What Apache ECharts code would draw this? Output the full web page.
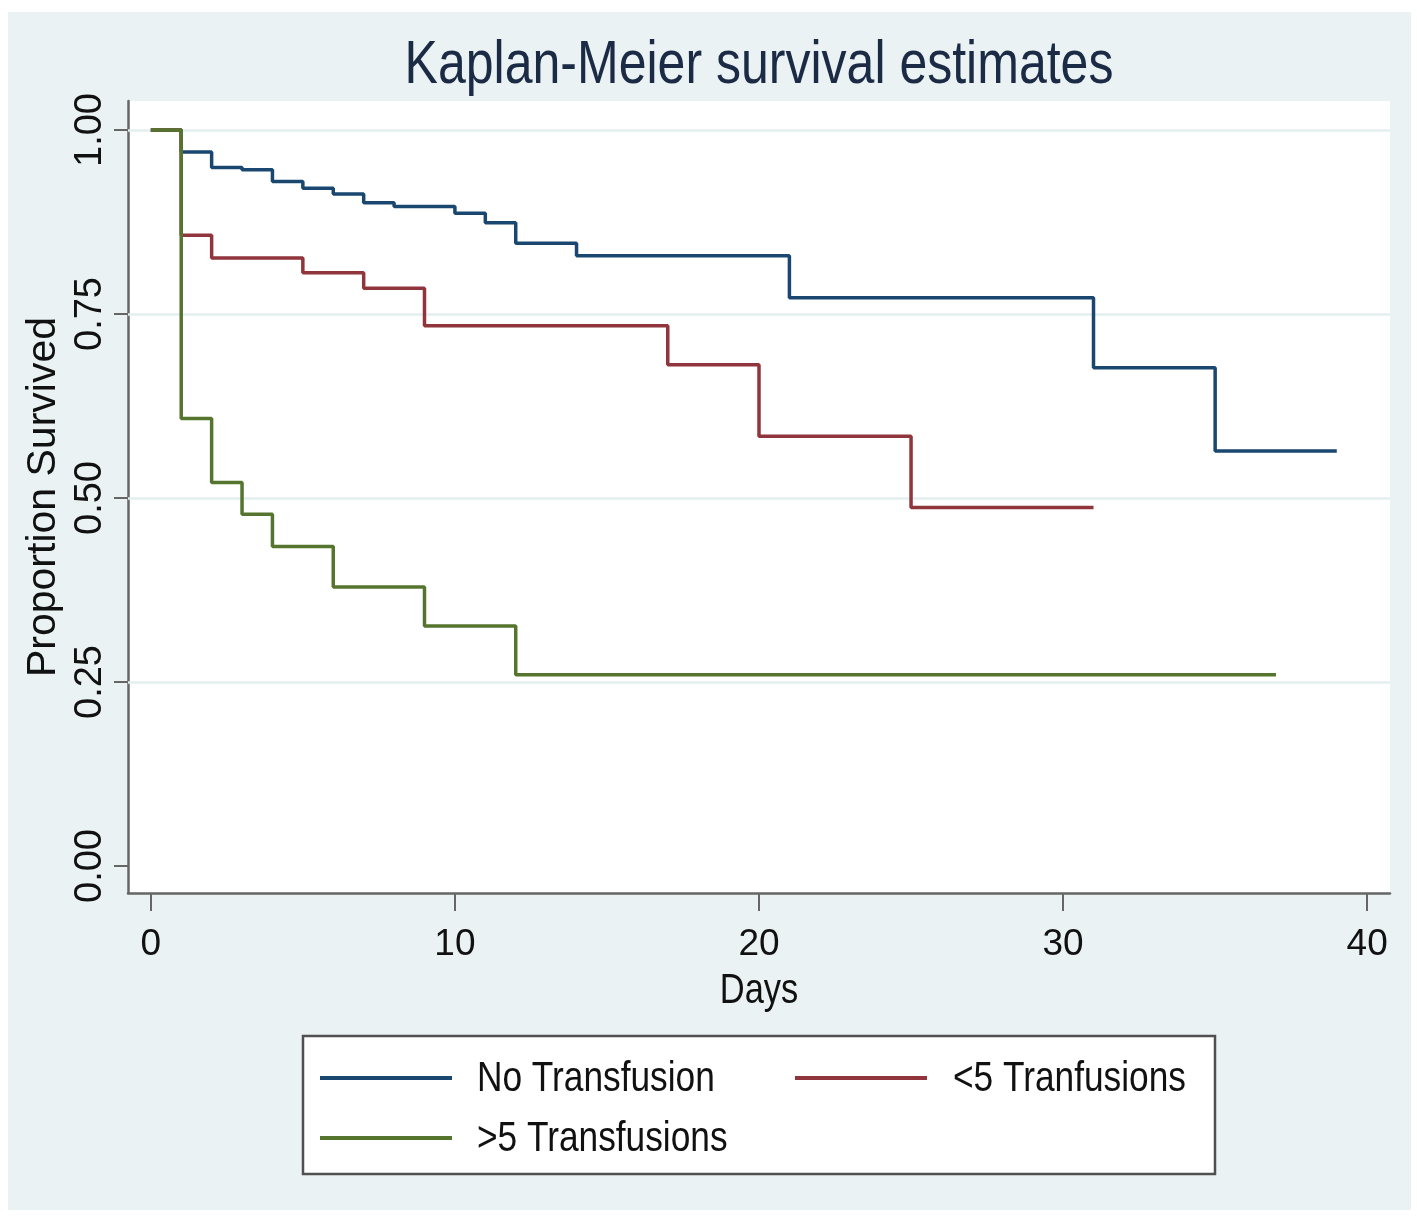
<!DOCTYPE html>
<html>
<head>
<meta charset="utf-8">
<script src="https://cdn.jsdelivr.net/npm/echarts@6/dist/echarts.min.js"></script>
<style>
html,body{margin:0;padding:0;background:#fff;}
#chart{width:1417px;height:1227px;}
</style>
</head>
<body>
<div id="chart"></div>
<script>
// Data
const chartTitle = 'Kaplan-Meier survival estimates';
const xTitle = 'Days';
const yTitle = 'Proportion Survived';
const seriesNames = ['No Transfusion', '<5 Tranfusions', '>5 Transfusions'];
const noTransDays = [0, 1, 2, 3, 4, 5, 6, 7, 8, 10, 11, 12, 14, 21, 31, 35, 39];
const noTransSurv = [1.000, 0.970, 0.949, 0.946, 0.930, 0.921, 0.913, 0.901, 0.896, 0.887, 0.874, 0.846, 0.829, 0.772, 0.677, 0.564, 0.564];
const lt5Days = [0, 1, 2, 5, 7, 9, 17, 20, 25, 31];
const lt5Surv = [1.000, 0.857, 0.826, 0.806, 0.785, 0.734, 0.681, 0.584, 0.487, 0.487];
const gt5Days = [0, 1, 2, 3, 4, 6, 9, 12, 37];
const gt5Surv = [1.000, 0.608, 0.521, 0.478, 0.434, 0.379, 0.326, 0.260, 0.260];
const xTicks = [0, 10, 20, 30, 40];
const yTicks = [0, 0.25, 0.5, 0.75, 1];
const gridValues = [0.25, 0.5, 0.75, 1];

const colors = ['#1a476f', '#90353b', '#55752f'];
const fontFam = "'Liberation Sans',Arial,sans-serif";
const squeeze = 0.82; // the reference's horizontal text is condensed

function pairs(xs, ys) { return xs.map((x, i) => [x, ys[i]]); }

const chart = echarts.init(document.getElementById('chart'), null, {renderer: 'canvas'});

function mkSeries(name, xs, ys, color, withGrid) {
  const s = {
    name: name,
    type: 'line',
    step: 'end',
    data: pairs(xs, ys),
    symbol: 'none',
    color: color,
    lineStyle: {color: color, width: 3.5},
    z: 5
  };
  if (withGrid) {
    s.markLine = {
      silent: true,
      symbol: 'none',
      label: {show: false},
      lineStyle: {color: '#e4eef0', width: 2.5, type: 'solid'},
      data: gridValues.map(v => ({yAxis: v})),
      z: 1
    };
  }
  return s;
}

function squeezedText(text, x, y, size, align, fill) {
  return {
    type: 'text', x: x, y: y, scaleX: squeeze, silent: true, z: 10,
    style: {text: text, fontFamily: fontFam, fontSize: size, fill: fill || '#111',
      align: align, verticalAlign: 'middle', textAlign: align, textVerticalAlign: 'middle'}
  };
}

const legendCommon = {
  orient: 'horizontal',
  icon: 'rect',
  itemWidth: 132,
  itemHeight: 4,
  padding: 0,
  selectedMode: false,
  formatter: () => '',
  textStyle: {fontSize: 1}
};

chart.setOption({
  animation: false,
  backgroundColor: '#ffffff',
  graphic: [
    {type: 'rect', z: -100, silent: true, shape: {x: 8, y: 12, width: 1403, height: 1198}, style: {fill: '#eaf2f3'}},
    {type: 'rect', z: -90, silent: true, shape: {x: 129, y: 101, width: 1261, height: 792}, style: {fill: '#ffffff'}},
    {type: 'rect', z: -80, silent: true, shape: {x: 303, y: 1036, width: 912, height: 138}, style: {fill: '#ffffff', stroke: '#505050', lineWidth: 2.5}},
    squeezedText(chartTitle, 759, 66, 61, 'center', '#1c2b45'),
    squeezedText(xTitle, 759, 991, 42, 'center'),
    squeezedText(seriesNames[0], 477, 1079, 43, 'left'),
    squeezedText(seriesNames[1], 953, 1079, 43, 'left'),
    squeezedText(seriesNames[2], 477, 1139, 43, 'left')
  ],
  legend: [
    Object.assign({}, legendCommon, {data: [seriesNames[0]], left: 320, top: 1076}),
    Object.assign({}, legendCommon, {data: [seriesNames[1]], left: 795, top: 1076}),
    Object.assign({}, legendCommon, {data: [seriesNames[2]], left: 320, top: 1136})
  ],
  grid: {left: 128, right: 27, top: 101, bottom: 334, containLabel: false},
  xAxis: {
    type: 'value',
    min: -0.75,
    max: 40.75,
    axisLine: {show: true, onZero: false, lineStyle: {color: '#666', width: 2.5}},
    axisTick: {show: true, length: 18, lineStyle: {color: '#666', width: 2}, customValues: xTicks},
    axisLabel: {fontFamily: fontFam, fontSize: 37, color: '#111', margin: 33, customValues: xTicks},
    splitLine: {show: false}
  },
  yAxis: {
    type: 'value',
    min: -0.0367,
    max: 1.0394,
    name: yTitle,
    nameLocation: 'middle',
    nameGap: 48,
    nameRotate: 90,
    nameTextStyle: {fontFamily: fontFam, fontSize: 41, color: '#111'},
    axisLine: {show: true, onZero: false, lineStyle: {color: '#666', width: 2.5}},
    axisTick: {show: true, length: 14, lineStyle: {color: '#666', width: 2}, customValues: yTicks},
    axisLabel: {fontFamily: fontFam, fontSize: 38, color: '#111', margin: 18, rotate: 90,
      formatter: v => v.toFixed(2), customValues: yTicks},
    splitLine: {show: false}
  },
  series: [
    mkSeries(seriesNames[0], noTransDays, noTransSurv, colors[0], true),
    mkSeries(seriesNames[1], lt5Days, lt5Surv, colors[1], false),
    mkSeries(seriesNames[2], gt5Days, gt5Surv, colors[2], false)
  ]
});
</script>
</body>
</html>
